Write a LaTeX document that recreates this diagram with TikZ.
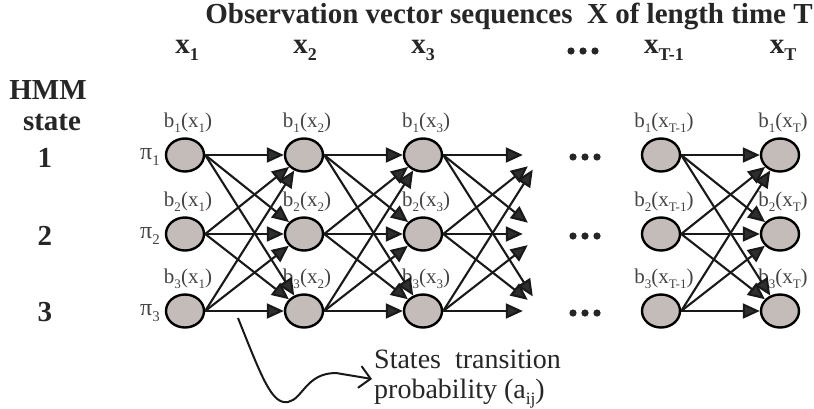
\documentclass[tikz,border=0pt]{standalone}
\usepackage{fontspec}
\setmainfont{Liberation Serif}
\usetikzlibrary{arrows.meta,shapes.geometric}

\definecolor{statefill}{HTML}{C4BCB9}
\definecolor{labelgray}{HTML}{444444}
\definecolor{headink}{HTML}{262626}
\definecolor{tipgray}{HTML}{2E2E2E}

% lowered, reduced subscript in the current font
\newcommand\lowsub[1]{\raisebox{-0.24em}{\scalebox{0.62}{#1}}}

\begin{document}
\begin{tikzpicture}[x=1pt,y=-1pt,
  state/.style={ellipse, draw=black, line width=2.4pt, fill=statefill,
    minimum width=38pt, minimum height=33pt, inner sep=0pt},
  ghost/.style={ellipse, minimum width=38pt, minimum height=33pt, inner sep=0pt},
  trans/.style={line width=2.1pt, draw=black!90,
    -{Triangle[length=17pt,width=15pt,fill=tipgray]}},
  headtext/.style={font=\fontsize{29}{31}\selectfont\bfseries, text=headink, inner sep=0pt},
  emis/.style={font=\fontsize{21}{23}\selectfont, text=labelgray, inner sep=0pt},
  prior/.style={font=\fontsize{24}{26}\selectfont, text=labelgray, inner sep=0pt},
  notetext/.style={font=\fontsize{28}{30}\selectfont, text=headink, align=left, inner sep=2pt},
  hint/.style={line width=2pt, draw=black!90, -{Straight Barb[length=11pt,width=22pt,line width=2pt]}}
]
\useasboundingbox (0,0) rectangle (814,408);

% title and observation labels
\node[headtext] (title) at (509,16) {Observation vector sequences\ \ X of length time T};
\node[headtext] (o1) at (187,50) {x\lowsub{1}};
\node[headtext] (o2) at (305,50) {x\lowsub{2}};
\node[headtext] (o3) at (423,50) {x\lowsub{3}};
\node[headtext] (o5) at (664,50) {x\lowsub{T-1}};
\node[headtext] (o6) at (783,50) {x\lowsub{T}};
\foreach \d in {571,583,595} \fill[headink] (\d,51) circle (3.6);

% row captions
\node[headtext] (hmm) at (48,90) {HMM};
\node[headtext] (state) at (52,122) {state};
\node[headtext] (r1) at (45,158) {1};
\node[headtext] (r2) at (45,236) {2};
\node[headtext] (r3) at (45,312) {3};

% states of the trellis
\foreach \c/\x/\t in {1/185/1,2/304/2,3/423/3,5/661/T-1,6/780/T}{
  \foreach \r/\y in {1/155,2/234,3/311}{
    \node[state] (s\c\r) at (\x,\y) {};
    \node[emis] (b\c\r) at (\x+3,\y-32) {b\lowsub{\r}(x\lowsub{\t})};
  }
}
% open ends of the transitions leaving column 3
\foreach \r/\y in {1/155,2/234,3/311} \node[ghost] (s4\r) at (542,\y) {};

% initial probabilities
\foreach \r/\y in {1/155,2/234,3/311} \node[prior] (p\r) at (150,\y+2) {π\lowsub{\r}};

% elided middle columns
\foreach \y in {157,236,313} \foreach \d in {573,585,597} \fill[headink] (\d,\y) circle (3.6);

% transitions
\foreach \c/\n in {1/2,2/3,3/4,5/6}
  \foreach \i in {1,2,3}
    \foreach \j in {1,2,3}
      \draw[trans] (s\c\i.east) -- (s\n\j);

% annotation
\node[notetext, anchor=west] (note) at (372,379) {States\ \ transition\\probability (a\lowsub{ij})};
\coordinate (hintstart) at (238,318);
\draw[hint] (hintstart) .. controls (262,378) and (272,405) .. (288,402)
  .. controls (303,399) and (306,373) .. (336,373) -- (note.west);
\end{tikzpicture}
\end{document}
